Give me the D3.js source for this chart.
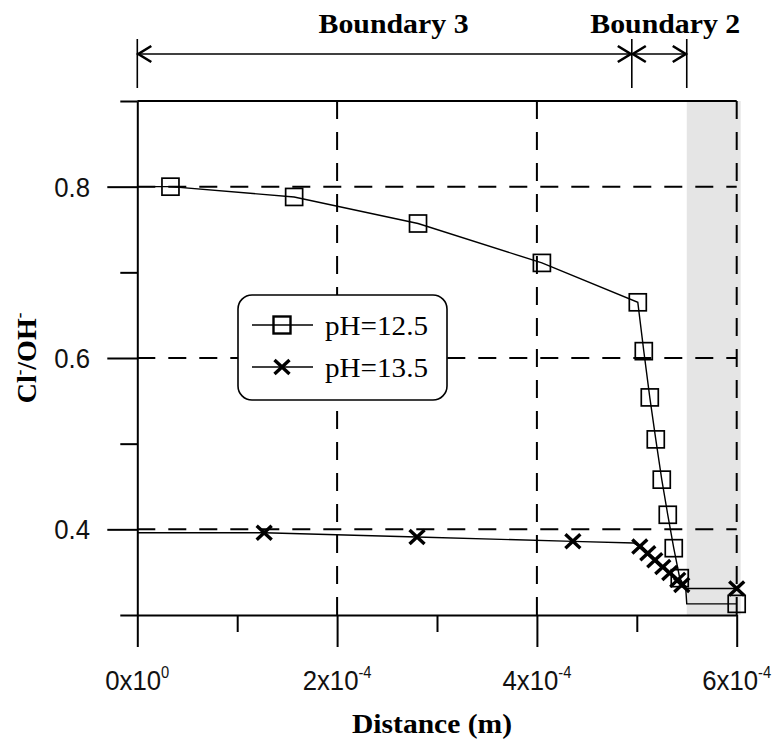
<!DOCTYPE html>
<html><head><meta charset="utf-8">
<script src="https://cdn.jsdelivr.net/npm/d3@7"></script>
<style>body{margin:0;background:#fff}svg{display:block}</style>
</head><body><svg id="c" width="773" height="741"></svg>
<script>
// ---- data ----
const xMajorTicks = [0, 2e-4, 4e-4, 6e-4];
const xMinorTicks = [1e-4, 3e-4, 5e-4];
const xTickMantissa = ["0", "2", "4", "6"];
const xTickExponent = ["0", "-4", "-4", "-4"];
const yMajorTicks = [0.4, 0.6, 0.8];
const yMinorTicks = [0.3, 0.5, 0.7, 0.9];
const yTickLabels = ["0.4", "0.6", "0.8"];
const seriesNames = ["pH=12.5", "pH=13.5"];

// pH=12.5 (square markers)
const ph125X = [0.332e-4, 1.57e-4, 2.81e-4, 4.05e-4, 5.01e-4, 5.07e-4, 5.13e-4, 5.19e-4, 5.25e-4, 5.31e-4, 5.37e-4, 5.43e-4, 6.0e-4];
const ph125Y = [0.800, 0.788, 0.757, 0.711, 0.665, 0.608, 0.554, 0.505, 0.458, 0.417, 0.378, 0.343, 0.313];
// line vertices for pH=12.5
const ph125LineX = [0, 0.332e-4, 1.57e-4, 2.81e-4, 4.05e-4, 5.01e-4, 5.07e-4, 5.13e-4, 5.19e-4, 5.25e-4, 5.31e-4, 5.37e-4, 5.43e-4, 5.49e-4, 5.50e-4, 6.0e-4];
const ph125LineY = [0.800, 0.800, 0.788, 0.757, 0.711, 0.665, 0.608, 0.554, 0.505, 0.458, 0.417, 0.378, 0.343, 0.331, 0.313, 0.313];

// pH=13.5 (cross markers)
const ph135X = [1.27e-4, 2.80e-4, 4.36e-4, 5.03e-4, 5.11e-4, 5.18e-4, 5.26e-4, 5.33e-4, 5.41e-4, 5.45e-4, 6.0e-4];
const ph135Y = [0.396, 0.391, 0.386, 0.380, 0.372, 0.364, 0.356, 0.349, 0.341, 0.335, 0.331];
const ph135LineX = [0, 1.27e-4, 2.80e-4, 4.36e-4, 4.97e-4, 5.03e-4, 5.11e-4, 5.18e-4, 5.26e-4, 5.33e-4, 5.41e-4, 5.45e-4, 5.49e-4, 6.0e-4];
const ph135LineY = [0.396, 0.396, 0.391, 0.386, 0.384, 0.380, 0.372, 0.364, 0.356, 0.349, 0.341, 0.335, 0.331, 0.331];

// annotations
const boundaryEdges = [0, 4.95e-4, 5.5e-4];
const boundaryLabels = ["Boundary 3", "Boundary 2"];
const shadedRegion = [5.5e-4, 6.04e-4];

// ---- drawing ----
const svg = d3.select("#c");
const x = d3.scaleLinear().domain([0, 6e-4]).range([137.3, 736.7]);
const y = d3.scaleLinear().domain([0.3, 0.9]).range([615, 101]);
const serif = "'Liberation Serif','Times New Roman',serif";
const sans = "'Liberation Sans',Arial,sans-serif";

// shaded region
svg.append("rect")
  .attr("x", x(shadedRegion[0])).attr("y", y(0.9))
  .attr("width", x(shadedRegion[1]) - x(shadedRegion[0]))
  .attr("height", y(0.3) - y(0.9))
  .attr("fill", "#e5e5e5");

// grid
const grid = svg.append("g").attr("stroke", "#000").attr("stroke-width", 2).attr("stroke-dasharray", "18,13");
grid.selectAll(".gh").data(yMajorTicks).join("line")
  .attr("x1", x(0)).attr("x2", x(6e-4)).attr("y1", d => y(d)).attr("y2", d => y(d));
grid.selectAll(".gv").data([2e-4, 4e-4, 6e-4]).join("line")
  .attr("x1", d => x(d)).attr("x2", d => x(d)).attr("y1", y(0.9)).attr("y2", y(0.3));

// top border
svg.append("line").attr("x1", x(0)).attr("x2", x(6e-4)).attr("y1", y(0.9)).attr("y2", y(0.9))
  .attr("stroke", "#000").attr("stroke-width", 2);

// axes
function styleAxis(g) {
  g.selectAll("path,line").attr("stroke", "#000").attr("stroke-width", 2);
  g.selectAll("text").remove();
}
svg.append("g").attr("transform", `translate(0,${y(0.3)})`)
  .call(d3.axisBottom(x).tickValues(xMajorTicks).tickSize(32).tickSizeOuter(0).tickFormat(""))
  .call(styleAxis);
svg.append("g").attr("transform", `translate(0,${y(0.3)})`)
  .call(d3.axisBottom(x).tickValues(xMinorTicks).tickSize(17).tickSizeOuter(0).tickFormat(""))
  .call(styleAxis).select(".domain").remove();
svg.append("g").attr("transform", `translate(${x(0)},0)`)
  .call(d3.axisLeft(y).tickValues(yMajorTicks).tickSize(30).tickSizeOuter(0).tickFormat(""))
  .call(styleAxis);
svg.append("g").attr("transform", `translate(${x(0)},0)`)
  .call(d3.axisLeft(y).tickValues(yMinorTicks).tickSize(17).tickSizeOuter(0).tickFormat(""))
  .call(styleAxis).select(".domain").remove();

// tick labels
xMajorTicks.forEach((v, i) => {
  const t = svg.append("g").attr("transform", `translate(${x(v)},690) scale(0.92,1)`)
    .append("text").attr("text-anchor", "middle").attr("font-family", sans)
    .attr("font-size", 28).attr("fill", "#111");
  t.append("tspan").text(xTickMantissa[i] + "x10");
  t.append("tspan").attr("font-size", 16).attr("dy", -12).text(xTickExponent[i]);
});
yMajorTicks.forEach((v, i) => {
  svg.append("g").attr("transform", `translate(90,${y(v)}) scale(0.92,1)`)
    .append("text").attr("text-anchor", "end").attr("dy", "0.36em")
    .attr("font-family", sans).attr("font-size", 28).attr("fill", "#111")
    .text(yTickLabels[i]);
});

// axis titles
svg.append("text").attr("x", 432).attr("y", 733).attr("text-anchor", "middle")
  .attr("font-family", serif).attr("font-weight", "bold").attr("font-size", 27)
  .attr("textLength", 160).attr("lengthAdjust", "spacingAndGlyphs")
  .text("Distance (m)");
const yt = svg.append("text").attr("transform", "translate(36,358) rotate(-90)")
  .attr("text-anchor", "middle").attr("font-family", serif).attr("font-weight", "bold").attr("font-size", 28);
yt.append("tspan").text("Cl");
yt.append("tspan").attr("font-size", 17).attr("dy", -11).text("-");
yt.append("tspan").attr("dy", 11).text("/OH");
yt.append("tspan").attr("font-size", 17).attr("dy", -11).text("-");

// series lines
const line = d3.line().x(d => x(d[0])).y(d => y(d[1]));
svg.append("path").datum(d3.zip(ph125LineX, ph125LineY)).attr("d", line)
  .attr("fill", "none").attr("stroke", "#000").attr("stroke-width", 1.4);
svg.append("path").datum(d3.zip(ph135LineX, ph135LineY)).attr("d", line)
  .attr("fill", "none").attr("stroke", "#000").attr("stroke-width", 1.4);

// markers
const sq = 17;
const crossPath = "M-7.5,-7L7.5,7M-7.5,7L7.5,-7";
svg.append("g").selectAll("rect").data(d3.zip(ph125X, ph125Y)).join("rect")
  .attr("x", d => x(d[0]) - sq / 2).attr("y", d => y(d[1]) - sq / 2)
  .attr("width", sq).attr("height", sq)
  .attr("fill", "none").attr("stroke", "#000").attr("stroke-width", 1.7);
svg.append("g").selectAll("path").data(d3.zip(ph135X, ph135Y)).join("path")
  .attr("transform", d => `translate(${x(d[0])},${y(d[1])})`)
  .attr("d", crossPath).attr("fill", "none").attr("stroke", "#000").attr("stroke-width", 3.4);

// legend
const lg = svg.append("g");
lg.append("rect").attr("x", 238).attr("y", 295).attr("width", 209).attr("height", 105)
  .attr("rx", 14).attr("fill", "#fff").attr("stroke", "#000").attr("stroke-width", 1.6);
[325, 367].forEach((ly, i) => {
  lg.append("line").attr("x1", 252).attr("x2", 313).attr("y1", ly).attr("y2", ly)
    .attr("stroke", "#000").attr("stroke-width", 1.4);
  if (i === 0) {
    lg.append("rect").attr("x", 282 - sq / 2).attr("y", ly - sq / 2).attr("width", sq).attr("height", sq)
      .attr("fill", "none").attr("stroke", "#000").attr("stroke-width", 2.4);
  } else {
    lg.append("path").attr("transform", `translate(282,${ly})`).attr("d", crossPath)
      .attr("fill", "none").attr("stroke", "#000").attr("stroke-width", 3.4);
  }
  lg.append("text").attr("x", 325).attr("y", ly + 10).attr("font-family", serif).attr("font-size", 27)
    .attr("textLength", 103).attr("lengthAdjust", "spacingAndGlyphs").text(seriesNames[i]);
});

// boundary annotations
const ann = svg.append("g").attr("stroke", "#000").attr("fill", "none");
const ay = 54;
boundaryEdges.forEach(b => {
  ann.append("line").attr("x1", x(b)).attr("x2", x(b)).attr("y1", 39).attr("y2", 88).attr("stroke-width", 1.6);
});
const labelDx = [9, 6];
for (let i = 0; i < boundaryEdges.length - 1; i++) {
  const x0 = x(boundaryEdges[i]), x1 = x(boundaryEdges[i + 1]);
  ann.append("line").attr("x1", x0).attr("x2", x1).attr("y1", ay).attr("y2", ay).attr("stroke-width", 1.6);
  ann.append("path").attr("d", `M${x0 + 14},${ay - 8}L${x0 + 1},${ay}L${x0 + 14},${ay + 8}`).attr("stroke-width", 2.6);
  ann.append("path").attr("d", `M${x1 - 14},${ay - 8}L${x1 - 1},${ay}L${x1 - 14},${ay + 8}`).attr("stroke-width", 2.6);
  svg.append("text").attr("x", (x0 + x1) / 2 + labelDx[i]).attr("y", 33).attr("text-anchor", "middle")
    .attr("font-family", serif).attr("font-weight", "bold").attr("font-size", 27)
    .attr("textLength", 150).attr("lengthAdjust", "spacingAndGlyphs")
    .text(boundaryLabels[i]);
}
</script></body></html>
